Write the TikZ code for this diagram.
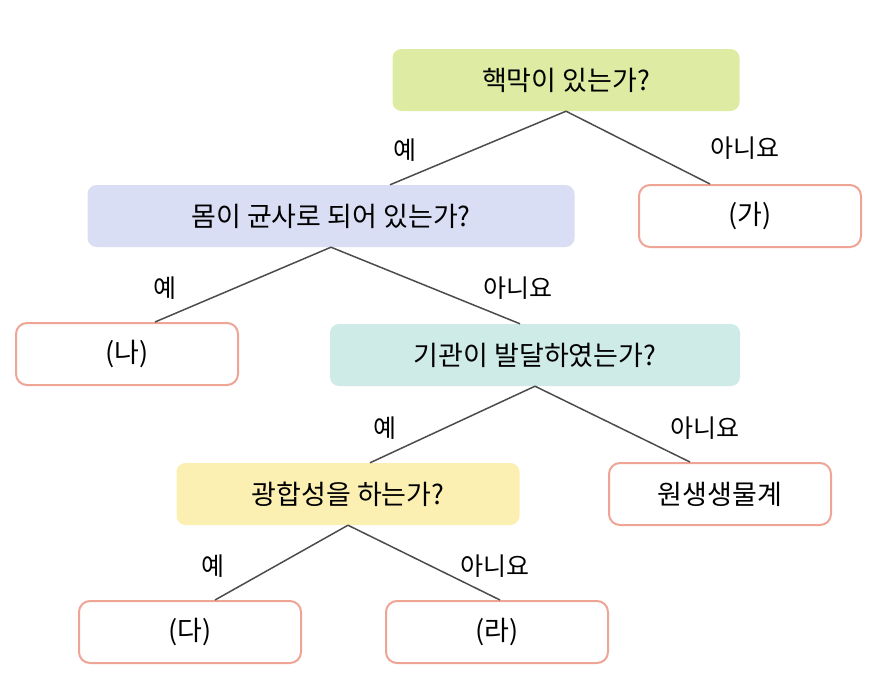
\documentclass[tikz,border=0pt]{standalone}
\usepackage{fontspec}
\setmainfont{Noto Sans CJK KR}
\definecolor{qgreen}{HTML}{DEEBA2}
\definecolor{qblue}{HTML}{DADEF4}
\definecolor{qteal}{HTML}{CFEBE8}
\definecolor{qyellow}{HTML}{FBF0B2}
\definecolor{aedge}{HTML}{EFA595}
\tikzset{
  question/.style={rounded corners=9pt, inner sep=0pt, minimum height=62pt, font=\fontsize{27}{32}\selectfont},
  answer/.style={draw=aedge, line width=2pt, fill=white, rounded corners=11pt, minimum width=222pt, minimum height=62pt, inner sep=0pt, font=\fontsize{27}{32}\selectfont},
  branch/.style={draw=black!70, line width=1.5pt},
  tag/.style={font=\fontsize{25}{30}\selectfont}
}
\begin{document}
\begin{tikzpicture}[x=1pt, y=-1pt]
    \useasboundingbox (0,0) rectangle (890,680);
    % Question nodes
    \node [question, fill=qgreen, minimum width=347pt] (q1) at (566,80) {핵막이 있는가?};
    \node [question, fill=qblue, minimum width=487pt] (q2) at (331,216) {몸이 균사로 되어 있는가?};
    \node [question, fill=qteal, minimum width=410pt] (q3) at (535,355) {기관이 발달하였는가?};
    \node [question, fill=qyellow, minimum width=343pt] (q4) at (348,494) {광합성을 하는가?};
    % Answer nodes
    \node [answer] (ga) at (750,216) {(가)};
    \node [answer] (na) at (127,354) {(나)};
    \node [answer] (pro) at (720,494) {원생생물계};
    \node [answer] (da) at (190,632) {(다)};
    \node [answer] (ra) at (497,632) {(라)};

    % Branches
    \draw [branch] (q1.south) -- ([xshift=59pt]q2.north);
    \draw [branch] (q1.south) -- ([xshift=-40pt]ga.north);
    \draw [branch] (q2.south) -- ([xshift=28pt]na.north);
    \draw [branch] (q2.south) -- ([xshift=-15pt]q3.north);
    \draw [branch] (q3.south) -- ([xshift=22pt]q4.north);
    \draw [branch] (q3.south) -- ([xshift=-30pt]pro.north);
    \draw [branch] (q4.south) -- ([xshift=25pt]da.north);
    \draw [branch] (q4.south) -- ([xshift=3pt]ra.north);

    % Branch labels
    \node [tag] (y1) at (405,150) {예};
    \node [tag] (n1) at (745,148) {아니요};
    \node [tag] (y2) at (165,288) {예};
    \node [tag] (n2) at (518,288) {아니요};
    \node [tag] (y3) at (385,428) {예};
    \node [tag] (n3) at (705,428) {아니요};
    \node [tag] (y4) at (213,566) {예};
    \node [tag] (n4) at (495,566) {아니요};
\end{tikzpicture}
\end{document}
